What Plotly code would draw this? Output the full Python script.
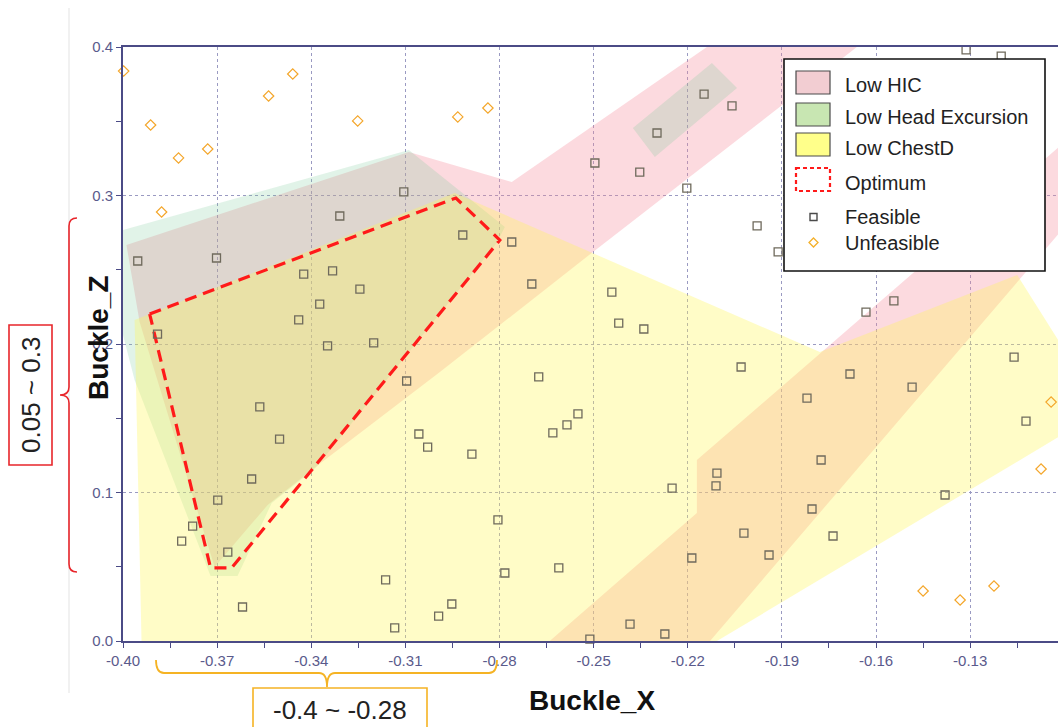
import plotly.graph_objects as go

# ---------------- data ----------------
feasible_x = [-0.3953, -0.3702, -0.3309, -0.3105, -0.3424, -0.3332, -0.3245, -0.3373, -0.3440, -0.3890,
              -0.3348, -0.3201, -0.2917, -0.2761, -0.2697, -0.2442, -0.2420, -0.2340, -0.2148, -0.2059,
              -0.2298, -0.2496, -0.2353, -0.2203, -0.1979, -0.1912, -0.1313, -0.1201, -0.1632, -0.1543,
              -0.1160, -0.2675, -0.2630, -0.2585, -0.2550, -0.2030, -0.1683, -0.1820, -0.1485, -0.1122,
              -0.1775, -0.2107, -0.2110, -0.2250, -0.1804, -0.1380, -0.2021, -0.1737, -0.1941, -0.2187,
              -0.2611, -0.2384, -0.2273, -0.2512, -0.3096, -0.3564, -0.3501, -0.3057, -0.3029, -0.2888,
              -0.3590, -0.3698, -0.3778, -0.3813, -0.3666, -0.2805, -0.2783, -0.3163, -0.3619, -0.2952,
              -0.2994, -0.3134]
feasible_y = [0.2559, 0.2579, 0.2862, 0.3024, 0.2471, 0.2492, 0.2370, 0.2269, 0.2162, 0.2067,
              0.1987, 0.2007, 0.2734, 0.2687, 0.2404, 0.2350, 0.2141, 0.2101, 0.3683, 0.3603,
              0.3421, 0.3219, 0.3158, 0.3050, 0.2795, 0.2620, 0.3980, 0.3939, 0.2215, 0.2290,
              0.1912, 0.1778, 0.1401, 0.1455, 0.1529, 0.1845, 0.1798, 0.1636, 0.1710, 0.1481,
              0.1219, 0.1131, 0.1044, 0.1030, 0.0889, 0.0983, 0.0727, 0.0707, 0.0579, 0.0559,
              0.0492, 0.0114, 0.0047, 0.0013, 0.1751, 0.1576, 0.1360, 0.1394, 0.1306, 0.1259,
              0.1091, 0.0949, 0.0774, 0.0673, 0.0599, 0.0815, 0.0458, 0.0411, 0.0229, 0.0249,
              0.0168, 0.0088]

unfeasible_x = [-0.3998, -0.3912, -0.3823, -0.3730, -0.3877, -0.3536, -0.3459, -0.3252, -0.2933, -0.2837,
                -0.1042, -0.1074, -0.1450, -0.1332, -0.1224]
unfeasible_y = [0.3838, 0.3475, 0.3253, 0.3313, 0.2889, 0.3670, 0.3818, 0.3502, 0.3529, 0.3589,
                0.1609, 0.1158, 0.0337, 0.0276, 0.0370]

# region outlines (None separates the separate pieces of one region)
hic_x = [-0.3989, -0.3089, -0.2761, -0.2139, -0.1661, -0.2502, -0.2990, -0.3399, -0.3539, -0.3708, -0.3947, -0.3989,
         None, -0.2640, -0.2171, -0.2171, -0.0950, -0.0950, -0.2129, -0.2640]
hic_y = [0.2667, 0.3293, 0.3091, 0.4000, 0.4000, 0.2620, 0.1811, 0.1152, 0.0916, 0.0498, 0.2148, 0.2667,
         None, 0.0000, 0.0862, 0.1219, 0.3450, 0.2910, 0.0000, 0.0000]

head_x = [-0.4000, -0.3089, -0.2783, -0.2809, -0.3386, -0.3526, -0.3635, -0.3721, -0.3963, -0.4000, -0.4000,
          None, -0.2375, -0.2123, -0.2043, -0.2305, -0.2375]
head_y = [0.2768, 0.3306, 0.2788, 0.2680, 0.1165, 0.0929, 0.0438, 0.0438, 0.1758, 0.2061, 0.2768,
          None, 0.3455, 0.3892, 0.3724, 0.3259, 0.3455]

chest_x = [-0.3941, -0.3963, -0.2943, -0.1779, -0.1150, -0.0949, -0.0949, -0.2107, -0.3941]
chest_y = [0.0000, 0.2162, 0.3017, 0.1946, 0.2465, 0.1791, 0.1461, 0.0000, 0.0000]

optimum_x = [-0.3915, -0.2939, -0.2799, -0.3654, -0.3721, -0.3915]
optimum_y = [0.2202, 0.2983, 0.2700, 0.0492, 0.0492, 0.2202]

x_ticks = [-0.40, -0.37, -0.34, -0.31, -0.28, -0.25, -0.22, -0.19, -0.16, -0.13]
x_tick_text = ["-0.40", "-0.37", "-0.34", "-0.31", "-0.28", "-0.25", "-0.22", "-0.19", "-0.16", "-0.13"]
x_minor = [-0.385, -0.355, -0.325, -0.295, -0.265, -0.235, -0.205, -0.175, -0.145, -0.115]
y_ticks = [0.0, 0.1, 0.2, 0.3, 0.4]
y_tick_text = ["0.0", "0.1", "0.2", "0.3", "0.4"]
y_minor = [0.05, 0.15, 0.25, 0.35]

legend_names = ["Low HIC", "Low Head Excursion", "Low ChestD", "Optimum", "Feasible", "Unfeasible"]

# ---------------- layout geometry (pixels) ----------------
W, H = 1058, 727
PL, PR, PT, PB = 123, 1058, 47, 641
FONT = "Arial, 'Liberation Sans', sans-serif"
NAVY = "#4b4b86"


def px(x):
    return (x - PL) / (PR - PL)


def py(y):
    return (PB - y) / (PB - PT)


def path(cmds):
    out = []
    for c in cmds:
        if isinstance(c, str):
            out.append(c)
        else:
            out.append(f"{px(c[0]):.5f},{py(c[1]):.5f}")
    return " ".join(out)


fig = go.Figure()

fig.add_trace(go.Scatter(x=hic_x, y=hic_y, mode="lines", fill="toself",
                         fillcolor="rgba(245,140,155,0.32)", line=dict(width=0),
                         name=legend_names[0], showlegend=False, hoverinfo="skip"))
fig.add_trace(go.Scatter(x=head_x, y=head_y, mode="lines", fill="toself",
                         fillcolor="rgba(120,200,150,0.22)", line=dict(width=0),
                         name=legend_names[1], showlegend=False, hoverinfo="skip"))
fig.add_trace(go.Scatter(x=chest_x, y=chest_y, mode="lines", fill="toself",
                         fillcolor="rgba(255,245,90,0.34)", line=dict(width=0),
                         name=legend_names[2], showlegend=False, hoverinfo="skip"))
fig.add_trace(go.Scatter(x=optimum_x, y=optimum_y, mode="lines",
                         line=dict(color="#ff1a1a", width=3.2, dash="12px,7px"),
                         name=legend_names[3], showlegend=False))
fig.add_trace(go.Scatter(x=feasible_x, y=feasible_y, mode="markers",
                         marker=dict(symbol="square-open", size=8, color="#6f6a5c", line=dict(width=1.3)),
                         name=legend_names[4], showlegend=False, cliponaxis=False))
fig.add_trace(go.Scatter(x=unfeasible_x, y=unfeasible_y, mode="markers",
                         marker=dict(symbol="diamond-open", size=8, color="#f4a62a", line=dict(width=1.2)),
                         name=legend_names[5], showlegend=False, cliponaxis=False))

shapes = []
# faint frame line of the embedded picture
shapes.append(dict(type="line", xref="paper", yref="paper", x0=px(69), x1=px(69), y0=py(8), y1=py(693),
                   line=dict(color="#e3e3e3", width=1), layer="below"))
# red brace + box (Buckle_Z range)
shapes.append(dict(type="path", xref="paper", yref="paper",
                   path=path(["M", (77, 218), "Q", (69, 218), (69, 226), "L", (69, 387), "Q", (69, 395), (60, 395),
                              "Q", (69, 395), (69, 403), "L", (69, 564), "Q", (69, 572), (77, 572)]),
                   line=dict(color="#e8262b", width=1.6)))
shapes.append(dict(type="rect", xref="paper", yref="paper", x0=px(9), x1=px(52), y0=py(325), y1=py(465),
                   line=dict(color="#e8262b", width=1.6), fillcolor="white"))
# orange brace + box (Buckle_X range)
shapes.append(dict(type="path", xref="paper", yref="paper",
                   path=path(["M", (156, 660), "Q", (156, 673), (164, 673), "L", (319, 673), "Q", (327, 673), (327, 687),
                              "Q", (327, 673), (335, 673), "L", (489, 673), "Q", (497, 673), (497, 660)]),
                   line=dict(color="#f5b324", width=1.8)))
shapes.append(dict(type="rect", xref="paper", yref="paper", x0=px(253), x1=px(427), y0=py(688), y1=py(745),
                   line=dict(color="#f5b324", width=1.6), fillcolor="white"))

# custom legend
shapes.append(dict(type="rect", xref="paper", yref="paper", x0=px(784), x1=px(1045), y0=py(59), y1=py(271),
                   line=dict(color="#111111", width=1.6), fillcolor="white"))
swatches = [("#f2cdd2", 71, 94), ("#c8e6b2", 103, 126), ("#ffff8a", 133, 156)]
for col, t, b in swatches:
    shapes.append(dict(type="rect", xref="paper", yref="paper", x0=px(796), x1=px(830), y0=py(t), y1=py(b),
                       line=dict(color="#4a4a4a", width=1.2), fillcolor=col))
shapes.append(dict(type="rect", xref="paper", yref="paper", x0=px(796), x1=px(830), y0=py(168), y1=py(191),
                   line=dict(color="#ff1a1a", width=2.2, dash="4px,3px"), fillcolor="white"))
shapes.append(dict(type="rect", xref="paper", yref="paper", x0=px(810), x1=px(817), y0=py(213.5), y1=py(220.5),
                   line=dict(color="#4a4a4a", width=1.4), fillcolor="white"))
shapes.append(dict(type="path", xref="paper", yref="paper",
                   path=path(["M", (813.5, 238), "L", (818, 242.5), "L", (813.5, 247), "L", (809, 242.5), "Z"]),
                   line=dict(color="#f4b02a", width=1.3), fillcolor="white"))

annotations = []
legend_y = [85, 117, 148, 183, 217, 243]
for name, yy in zip(legend_names, legend_y):
    annotations.append(dict(text=name, xref="paper", yref="paper", x=px(843), y=py(yy),
                            xanchor="left", yanchor="middle", showarrow=False,
                            font=dict(family=FONT, size=20, color="#222222")))
annotations.append(dict(text="0.05 ~ 0.3", xref="paper", yref="paper", x=px(31), y=py(395),
                        xanchor="center", yanchor="middle", textangle=-90, showarrow=False,
                        font=dict(family=FONT, size=26, color="#222222")))
annotations.append(dict(text="-0.4 ~ -0.28", xref="paper", yref="paper", x=px(340), y=py(710),
                        xanchor="center", yanchor="middle", showarrow=False,
                        font=dict(family=FONT, size=26, color="#222222")))
annotations.append(dict(text="<b>Buckle_Z</b>", xref="paper", yref="paper", x=px(98), y=py(338),
                        xanchor="center", yanchor="middle", textangle=-90, showarrow=False,
                        font=dict(family=FONT, size=28, color="#111111")))
annotations.append(dict(text="<b>Buckle_X</b>", xref="paper", yref="paper", x=px(592), y=py(700),
                        xanchor="center", yanchor="middle", showarrow=False,
                        font=dict(family=FONT, size=28, color="#111111")))

fig.update_layout(
    width=W, height=H,
    margin=dict(l=PL, r=W - PR, t=PT, b=H - PB, pad=0),
    paper_bgcolor="white", plot_bgcolor="white",
    showlegend=False,
    shapes=shapes, annotations=annotations,
    xaxis=dict(range=[-0.40, -0.102], tickmode="array", tickvals=x_ticks, ticktext=x_tick_text,
               showline=True, linecolor=NAVY, linewidth=1.6, mirror=True,
               ticks="outside", ticklen=5, tickwidth=1.3, tickcolor=NAVY,
               showgrid=True, gridcolor="#9a9ac2", griddash="dot", gridwidth=1.2, zeroline=False,
               tickfont=dict(family=FONT, size=15, color="#5a5a8c"),
               minor=dict(tickmode="array", tickvals=x_minor, ticks="outside", ticklen=5,
                          tickwidth=1.3, tickcolor=NAVY, showgrid=False)),
    yaxis=dict(range=[0, 0.4], tickmode="array", tickvals=y_ticks, ticktext=y_tick_text,
               showline=True, linecolor=NAVY, linewidth=1.6, mirror=False,
               ticks="outside", ticklen=5, tickwidth=1.3, tickcolor=NAVY,
               showgrid=True, gridcolor="#9a9ac2", griddash="dot", gridwidth=1.2, zeroline=False,
               tickfont=dict(family=FONT, size=15, color="#5a5a8c"),
               minor=dict(tickmode="array", tickvals=y_minor, ticks="outside", ticklen=5,
                          tickwidth=1.3, tickcolor=NAVY, showgrid=False)),
)

fig.write_html("out.html", config={"displayModeBar": False},
               post_script="document.body.style.margin='0';document.body.style.overflow='hidden';")
